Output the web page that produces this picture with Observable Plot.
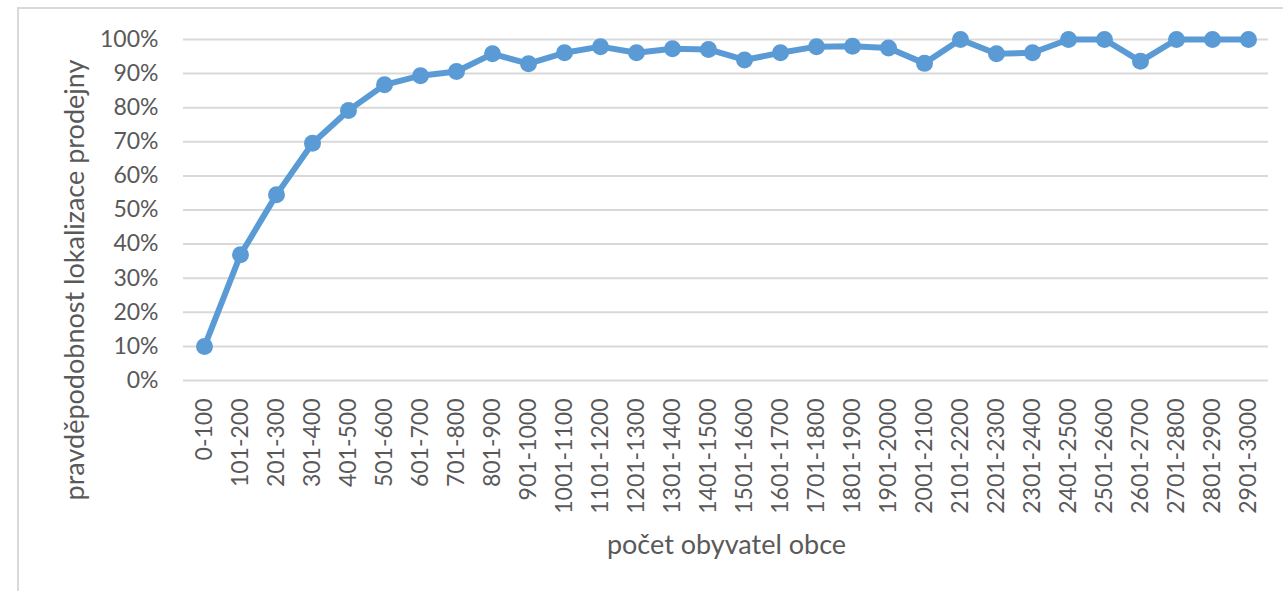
<!DOCTYPE html>
<html>
<head>
<meta charset="utf-8">
<script src="https://cdn.jsdelivr.net/npm/d3@7"></script>
<script src="https://cdn.jsdelivr.net/npm/@observablehq/plot@0.6"></script>
<style>
  html, body { margin: 0; padding: 0; background: #fff; }
  #wrap { position: relative; width: 1283px; height: 591px; overflow: hidden; }
  #frame { position: absolute; left: 17px; top: 7px; width: 1300px; height: 700px;
           border-left: 2px solid #d9d9d9; border-top: 2px solid #d9d9d9; box-sizing: border-box; }
  #chart { position: absolute; left: 0; top: 0; }
</style>
</head>
<body>
<div id="wrap"><div id="frame"></div><div id="chart"></div></div>
<script>
const categories = ["0-100","101-200","201-300","301-400","401-500","501-600","601-700","701-800","801-900","901-1000",
  "1001-1100","1101-1200","1201-1300","1301-1400","1401-1500","1501-1600","1601-1700","1701-1800","1801-1900","1901-2000",
  "2001-2100","2101-2200","2201-2300","2301-2400","2401-2500","2501-2600","2601-2700","2701-2800","2801-2900","2901-3000"];
const probability = [0.10,0.369,0.545,0.696,0.792,0.867,0.894,0.906,0.958,0.929,
  0.961,0.979,0.961,0.973,0.971,0.940,0.961,0.979,0.980,0.975,
  0.930,1.00,0.958,0.961,1.00,1.00,0.936,1.00,1.00,1.00];
const yTicks = [0,0.1,0.2,0.3,0.4,0.5,0.6,0.7,0.8,0.9,1.0];
const xTitle = "počet obyvatel obce";
const yTitle = "pravděpodobnost lokalizace prodejny";

const data = categories.map((c, i) => ({cat: c, p: probability[i]}));
const blue = "#5b9bd5";
const grey = "#595959";

const chart = Plot.plot({
  width: 1283,
  height: 591,
  marginLeft: 184,
  marginRight: 15,
  marginTop: 39,
  marginBottom: 211,
  style: {fontFamily: "Lato, sans-serif", fontSize: "23px", color: grey, background: "transparent", overflow: "visible"},
  x: {type: "point", domain: categories, padding: 0.5},
  y: {domain: [0, 1]},
  marks: [
    Plot.ruleY(yTicks, {stroke: "#d9d9d9", strokeWidth: 2, strokeOpacity: 1, insetLeft: -1}),
    Plot.axisY(yTicks, {tickSize: 0, tickPadding: 26, tickFormat: d => Math.round(d * 100) + "%", fill: grey,
      label: null, fontSize: 23}),
    Plot.axisX({tickSize: 0, tickPadding: 18, tickRotate: -90, fill: grey, label: null, fontSize: 23}),
    Plot.text([yTitle], {text: d => d, frameAnchor: "left", dx: -109, dy: 70, rotate: -90,
      fill: grey, fontSize: 27, textAnchor: "middle", lineAnchor: "middle"}),
    Plot.text([xTitle], {text: d => d, frameAnchor: "bottom", dy: 165,
      fill: grey, fontSize: 27, textAnchor: "middle", lineAnchor: "middle"}),
    Plot.line(data, {x: "cat", y: "p", stroke: blue, strokeWidth: 6, strokeLinejoin: "round"}),
    Plot.dot(data, {x: "cat", y: "p", r: 8.5, fill: blue, stroke: "none"})
  ]
});
document.getElementById("chart").appendChild(chart);
</script>
</body>
</html>
